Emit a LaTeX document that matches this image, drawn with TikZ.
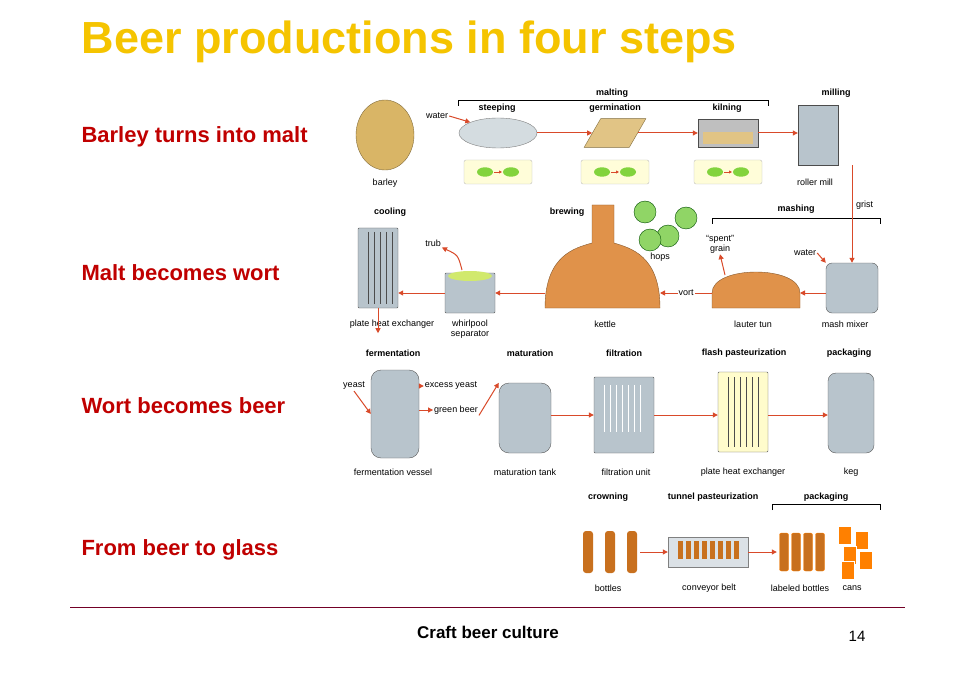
\documentclass[tikz,border=0pt]{standalone}
\usepackage{fontspec}
\setmainfont{Liberation Sans}
\usetikzlibrary{arrows.meta,shapes.geometric}
\definecolor{ttl}{HTML}{F5C400}
\definecolor{rd}{HTML}{C00000}
\definecolor{arr}{HTML}{D94A2A}
\definecolor{steel}{HTML}{B8C4CC}
\definecolor{copper}{HTML}{E0924A}
\definecolor{malt}{HTML}{D9B566}
\definecolor{beer}{HTML}{C8701E}
\tikzset{
 lbl/.style={font=\fontsize{9}{10}\selectfont,inner sep=1pt},
 hd/.style={font=\bfseries\fontsize{9}{10}\selectfont,inner sep=1pt},
 side/.style={font=\bfseries\fontsize{22}{25}\selectfont,text=rd,anchor=west},
 tank/.style={draw=gray!70!black,fill=steel,rounded corners=6pt},
 pot/.style={draw=copper!60!black,fill=copper},
 flow/.style={draw=arr,line width=1pt,-{Triangle[length=5pt,width=5pt]}},
 brk/.style={draw=black,line width=0.6pt}
}
\begin{document}
\begin{tikzpicture}[x=1pt,y=-1pt]
\useasboundingbox[fill=white] (0,0) rectangle (976,676);
\node[anchor=west,text=ttl,font=\bfseries\fontsize{45}{50}\selectfont] (title) at (78,42) {Beer productions in four steps};
\node[side] (s1) at (78,137) {Barley turns into malt};
\node[side] (s2) at (78,273) {Malt becomes wort};
\node[side] (s3) at (78,406) {Wort becomes beer};
\node[side] (s4) at (78,550) {From beer to glass};
\draw[draw=purple!60!black,line width=0.6pt] (70,607) -- (905,607);
\node[font=\bfseries\fontsize{17}{19}\selectfont] (foot) at (488,632) {Craft beer culture};
\node[font=\fontsize{15}{17}\selectfont] (pg) at (857,636) {14};
% Row 1
\node[ellipse,draw=malt!60!black,fill=malt,minimum width=58pt,minimum height=70pt] (barley) at (385,135) {};
\node[lbl] at (385,183) {barley};
\node[hd] at (612,93) {malting};
\draw[brk] (458,106) -- (458,100) -- (768,100) -- (768,106);
\node[hd] at (497,108) {steeping};
\node[hd] at (615,108) {germination};
\node[hd] at (727,108) {kilning};
\node[hd] at (836,93) {milling};
\node[ellipse,draw=gray,fill=steel!60,minimum width=78pt,minimum height=30pt] (steep) at (498,133) {};
\node[trapezium,draw=malt!60!black,fill=malt!80,minimum width=62pt,minimum height=22pt,trapezium left angle=60,trapezium right angle=120] (germ) at (615,133) {};
\node[draw=gray!60!black,fill=gray!50,minimum width=60pt,minimum height=28pt] (kiln) at (728,133) {};
\node[fill=malt!80,minimum width=50pt,minimum height=12pt] at (728,138) {};
\node[draw=gray!60!black,fill=steel,minimum width=40pt,minimum height=60pt] (mill) at (818,135) {};
\foreach \x in {498,615,728}{
 \node[draw=gray!50,fill=yellow!15,rounded corners=2pt,minimum width=68pt,minimum height=24pt] at (\x,172) {};
 \node[ellipse,fill=malt!60!green,minimum width=16pt,minimum height=9pt] at (\x-13,172) {};
 \node[ellipse,fill=malt!60!green,minimum width=16pt,minimum height=9pt] at (\x+13,172) {};
 \draw[arr,line width=0.8pt,-{Triangle[length=3pt,width=3pt]}] (\x-4,172) -- (\x+4,172);}
\node[lbl] (water1) at (437,116) {water};
\draw[flow] (water1.east) -- (steep.north west);
\draw[flow] (steep.east) -- (steep.east -| germ.west);
\draw[flow] (germ.east) -- (kiln.west);
\draw[flow] (kiln.east) -- (kiln.east -| mill.west);
\node[lbl] at (815,182) {roller mill};
% Row 2
\node[hd] at (390,212) {cooling};
\node[hd] at (567,212) {brewing};
\node[hd] at (796,209) {mashing};
\draw[brk] (712,224) -- (712,218) -- (880,218) -- (880,224);
\node[lbl,anchor=west] (grist) at (855,205) {grist};
\node[tank,rounded corners=1pt,minimum width=40pt,minimum height=80pt] (phe1) at (378,268) {};
\foreach \x in {368,374,380,386,392} \draw[gray!60!black] (\x,232) -- (\x,304);
\node[tank,rounded corners=1pt,minimum width=50pt,minimum height=40pt] (whirl) at (470,293) {};
\node[ellipse,fill=yellow!70!green!60,minimum width=44pt,minimum height=10pt] at (470,276) {};
\node[lbl] (trub) at (433,243) {trub};
\node[lbl,align=center] at (470,329) {whirlpool\\separator};
\node[lbl] at (392,324) {plate heat exchanger};
\draw[pot] (545,308) .. controls (545,255) and (575,248) .. (592,243) -- (592,205) -- (614,205) -- (614,243) .. controls (630,248) and (660,255) .. (660,308) -- cycle;
\coordinate (kettleE) at (660,293);
\coordinate (kettleW) at (545,293);
\node[lbl] at (605,324) {kettle};
\foreach \p in {(645,212),(668,236),(686,218),(650,240)}
 \node[circle,fill=green!45!olive!60,draw=green!30!black,minimum size=22pt] at \p {};
\node[lbl] at (660,257) {hops};
\draw[pot] (712,308) -- (712,293) .. controls (712,265) and (800,265) .. (800,293) -- (800,308) -- cycle;
\coordinate (lauterE) at (800,293);
\coordinate (lauterW) at (712,293);
\node[lbl] at (753,324) {lauter tun};
\node[lbl,align=center] (spent) at (720,244) {``spent''\\grain};
\node[tank,minimum width=52pt,minimum height=50pt] (mash) at (852,288) {};
\node[lbl] at (845,324) {mash mixer};
\node[lbl] (water2) at (805,253) {water};
\draw[flow] (mill.south -| 852,0) -- (mash.north -| 852,0);
\draw[flow] (water2.east) -- (mash.north west);
\draw[flow] (mash.west |- lauterE) -- (lauterE);
\draw[flow] (lauterW) -- node[lbl,fill=white]{vort} (kettleE);
\draw[flow] (725,275) -- (spent.south);
\draw[flow] (kettleW) -- (whirl.east |- kettleW);
\draw[flow] (whirl.west) -- (phe1.east |- whirl.west);
\draw[flow] (462,270) .. controls (458,255) .. (trub.south east);
\draw[flow] (phe1.south) -- ++(0,25);
% Row 3
\node[hd] at (393,353) {fermentation};
\node[hd] at (530,353) {maturation};
\node[hd] at (624,353) {filtration};
\node[hd] at (744,353) {flash pasteurization};
\node[hd] at (849,353) {packaging};
\node[tank,rounded corners=10pt,minimum width=48pt,minimum height=88pt] (ferm) at (395,414) {};
\node[lbl] (yeast) at (354,386) {yeast};
\node[lbl] (xyeast) at (451,386) {excess yeast};
\node[lbl] (green) at (456,410) {green beer};
\node[lbl] at (393,472) {fermentation vessel};
\draw[flow] (yeast.south) -- (ferm.west);
\draw[flow] (ferm.east |- xyeast) -- (xyeast.west);
\draw[flow] (ferm.east |- green) -- (green.west);
\node[tank,rounded corners=10pt,minimum width=52pt,minimum height=70pt] (mat) at (525,418) {};
\node[lbl] at (525,472) {maturation tank};
\draw[flow] (green.south east) -- (mat.north west);
\node[tank,rounded corners=1pt,minimum width=60pt,minimum height=76pt] (filt) at (624,415) {};
\foreach \x in {604,610,616,622,628,634,640} \draw[white] (\x,385) -- (\x,432);
\node[lbl] at (626,472) {filtration unit};
\node[tank,rounded corners=1pt,minimum width=50pt,minimum height=80pt,fill=yellow!20] (phe2) at (743,412) {};
\foreach \x in {728,734,740,746,752,758} \draw[gray!60!black] (\x,377) -- (\x,447);
\node[lbl] at (743,472) {plate heat exchanger};
\node[tank,rounded corners=8pt,minimum width=46pt,minimum height=80pt] (keg) at (851,413) {};
\node[lbl] at (851,472) {keg};
\draw[flow] (mat.east |- filt.west) -- (filt.west);
\draw[flow] (filt.east) -- (phe2.west |- filt.east);
\draw[flow] (phe2.east |- filt.east) -- (keg.west |- filt.east);
% Row 4
\node[hd] at (608,497) {crowning};
\node[hd] at (713,497) {tunnel pasteurization};
\node[hd] at (826,497) {packaging};
\draw[brk] (772,510) -- (772,504) -- (880,504) -- (880,510);
\foreach \x in {588,610,632} \node[fill=beer,rounded corners=3pt,minimum width=10pt,minimum height=42pt] at (\x,552) {};
\node[minimum width=60pt,minimum height=50pt,inner sep=0] (bott) at (610,552) {};
\node[lbl] at (608,588) {bottles};
\node[draw=gray,fill=steel!50,minimum width=80pt,minimum height=30pt] (conv) at (708,552) {};
\foreach \x in {680,688,...,736} \node[fill=beer,minimum width=5pt,minimum height=18pt,inner sep=0] at (\x,550) {};
\node[lbl] at (709,588) {conveyor belt};
\foreach \x in {784,796,808,820} \node[fill=beer,draw=orange,rounded corners=2pt,minimum width=9pt,minimum height=38pt,inner sep=0] at (\x,552) {};
\node[minimum width=50pt,minimum height=40pt,inner sep=0] (lab) at (802,552) {};
\node[lbl] at (800,588) {labeled bottles};
\foreach \p in {(845,535),(862,540),(850,555),(866,560),(848,570)} \node[fill=orange,draw=white,minimum width=13pt,minimum height=18pt,inner sep=0] at \p {};
\node[lbl] at (852,588) {cans};
\draw[flow] (bott.east) -- (conv.west);
\draw[flow] (conv.east) -- (lab.west);
\end{tikzpicture}
\end{document}
